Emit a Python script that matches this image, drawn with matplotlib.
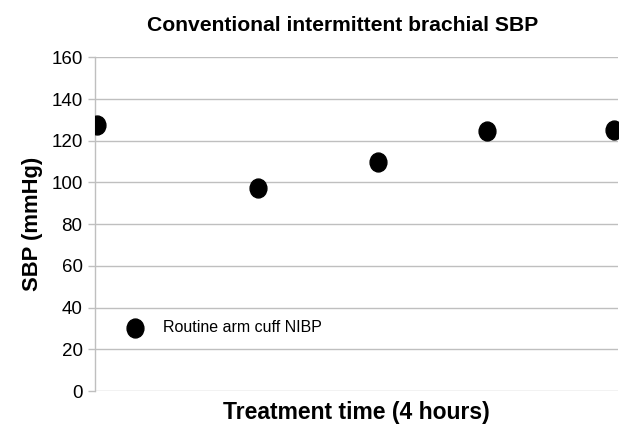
import matplotlib.pyplot as plt
from matplotlib.path import Path
from matplotlib.transforms import Affine2D

plt.rcParams['font.family'] = ['Liberation Sans', 'DejaVu Sans']

# treatment time (minutes) and brachial SBP readings
time_min = [1, 75, 130, 180, 238]
sbp = [127.8, 97.3, 110, 124.8, 125.3]
legend_label = "Routine arm cuff NIBP"
y_ticks = [0, 20, 40, 60, 80, 100, 120, 140, 160]

# slightly tall ellipse, like the reference dots
ellipse = Path.unit_circle().transformed(Affine2D().scale(0.89, 1.0))

fig = plt.figure(figsize=(6.23, 4.28), dpi=100)
ax = fig.add_axes([0.1525, 0.0864, 0.8395, 0.7796])

grid_col = "#bfbfbf"
for t in y_ticks:
    ax.axhline(t, color=grid_col, lw=1.0, zorder=1)

ax.scatter(time_min, sbp, s=185, marker=ellipse, color="black", zorder=3, label=legend_label)

ax.set_xlim(0, 240)
ax.set_ylim(0, 160)
ax.set_yticks(y_ticks)
ax.set_xticks([])
ax.tick_params(axis="y", colors=grid_col, length=5, width=1, labelsize=13.5, labelcolor="black", pad=4)

for s in ["top", "right", "bottom"]:
    ax.spines[s].set_visible(False)
ax.spines["left"].set_color(grid_col)
ax.spines["left"].set_linewidth(1.0)
ax.spines["left"].set_position(("data", 0))

ax.set_title("Conventional intermittent brachial SBP", fontsize=15.2, fontweight="bold",
             x=0.474, pad=19)
ax.set_ylabel("SBP (mmHg)", fontsize=15.8, fontweight="bold", labelpad=6)
ax.set_xlabel("Treatment time (4 hours)", fontsize=16.5, fontweight="bold", labelpad=7)

ax.legend(loc="lower left", bbox_to_anchor=(0.018, 0.125), frameon=False, fontsize=11.5,
          handletextpad=0.75, markerscale=1.0)

fig.savefig("out.png", dpi=100)
